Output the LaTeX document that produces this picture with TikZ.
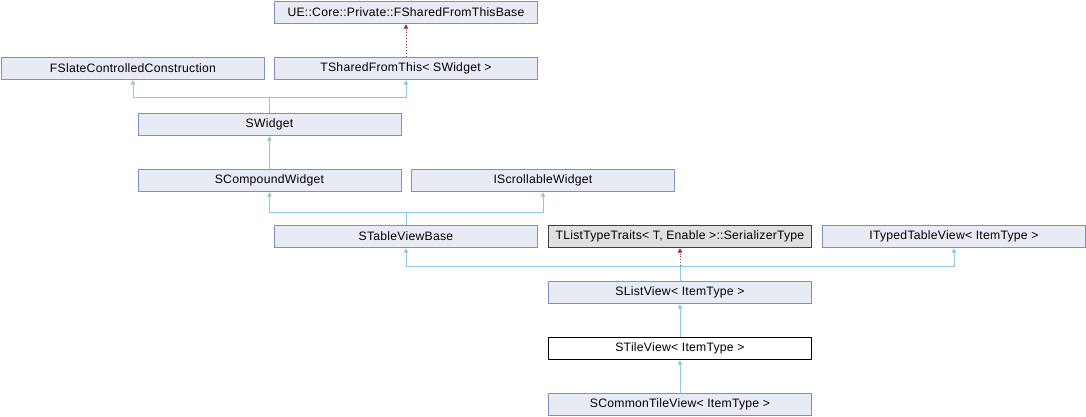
\documentclass[tikz,border=0pt]{standalone}
\usepackage{fontspec}
\setmainfont{Liberation Sans}
\newfontfamily\nodefont[LetterSpace=2]{Liberation Sans}
\usetikzlibrary{arrows.meta}
\definecolor{nodefill}{HTML}{E8EBF4}
\definecolor{nodedraw}{HTML}{7C92C4}
\definecolor{edgeblue}{HTML}{8FC7E6}
\definecolor{edgered}{HTML}{9A3030}
\definecolor{grayfill}{HTML}{E0E0E0}
\tikzset{
  cls/.style={draw=nodedraw, fill=nodefill, line width=0.9pt, anchor=north west,
    minimum width=263pt, minimum height=22.8pt, inner sep=0pt,
    font=\nodefont\fontsize{12.2}{14}\selectfont},
  grayc/.style={cls, draw=black!75, fill=grayfill},
  cur/.style={cls, draw=black, fill=white},
  inh/.style={draw=edgeblue, line width=0.9pt},
  inharr/.style={inh, -{Triangle[length=4.5pt,width=4.5pt]}},
  tmpl/.style={draw=edgered, line width=0.9pt, dotted, -{Triangle[length=4.5pt,width=4.5pt,fill=edgered]}}
}
\begin{document}
\begin{tikzpicture}[x=1pt,y=-1pt]
\useasboundingbox (0,0) rectangle (1086,416);
\node[cls] (base) at (274,0.5) {UE::Core::Private::FSharedFromThisBase};
\node[cls] (fslate) at (1,56.5) {FSlateControlledConstruction};
\node[cls] (tshared) at (274,56.5) {TSharedFromThis< SWidget >};
\node[cls] (swidget) at (137.5,112.5) {SWidget};
\node[cls] (scomp) at (137.5,168.5) {SCompoundWidget};
\node[cls] (iscroll) at (411,168.5) {IScrollableWidget};
\node[cls] (stable) at (274,224.5) {STableViewBase};
\node[grayc] (tlist) at (548,224.5) {TListTypeTraits< T, Enable >::SerializerType};
\node[cls] (ityped) at (822,224.5) {ITypedTableView< ItemType >};
\node[cls] (slist) at (548,280.5) {SListView< ItemType >};
\node[cur] (stile) at (548,336.5) {STileView< ItemType >};
\node[cls] (scommon) at (548,392.5) {SCommonTileView< ItemType >};

% template edges
\draw[tmpl] (tshared.north) -- (base.south);
\draw[tmpl] (slist.north) -- (tlist.south);

% inheritance
\draw[inharr] (swidget.north) -- ++(0,-15.5) -| (fslate.south);
\draw[inharr] (swidget.north) -- ++(0,-15.5) -| (tshared.south);
\draw[inharr] (scomp.north) -- (swidget.south);
\draw[inharr] (stable.north) -- ++(0,-12.5) -| (scomp.south);
\draw[inharr] (stable.north) -- ++(0,-12.5) -| (iscroll.south);
\draw[inharr] (slist.north) -- ++(0,-14.5) -| (stable.south);
\draw[inharr] (slist.north) -- ++(0,-14.5) -| (ityped.south);
\draw[inharr] (stile.north) -- (slist.south);
\draw[inharr] (scommon.north) -- (stile.south);
\end{tikzpicture}
\end{document}
